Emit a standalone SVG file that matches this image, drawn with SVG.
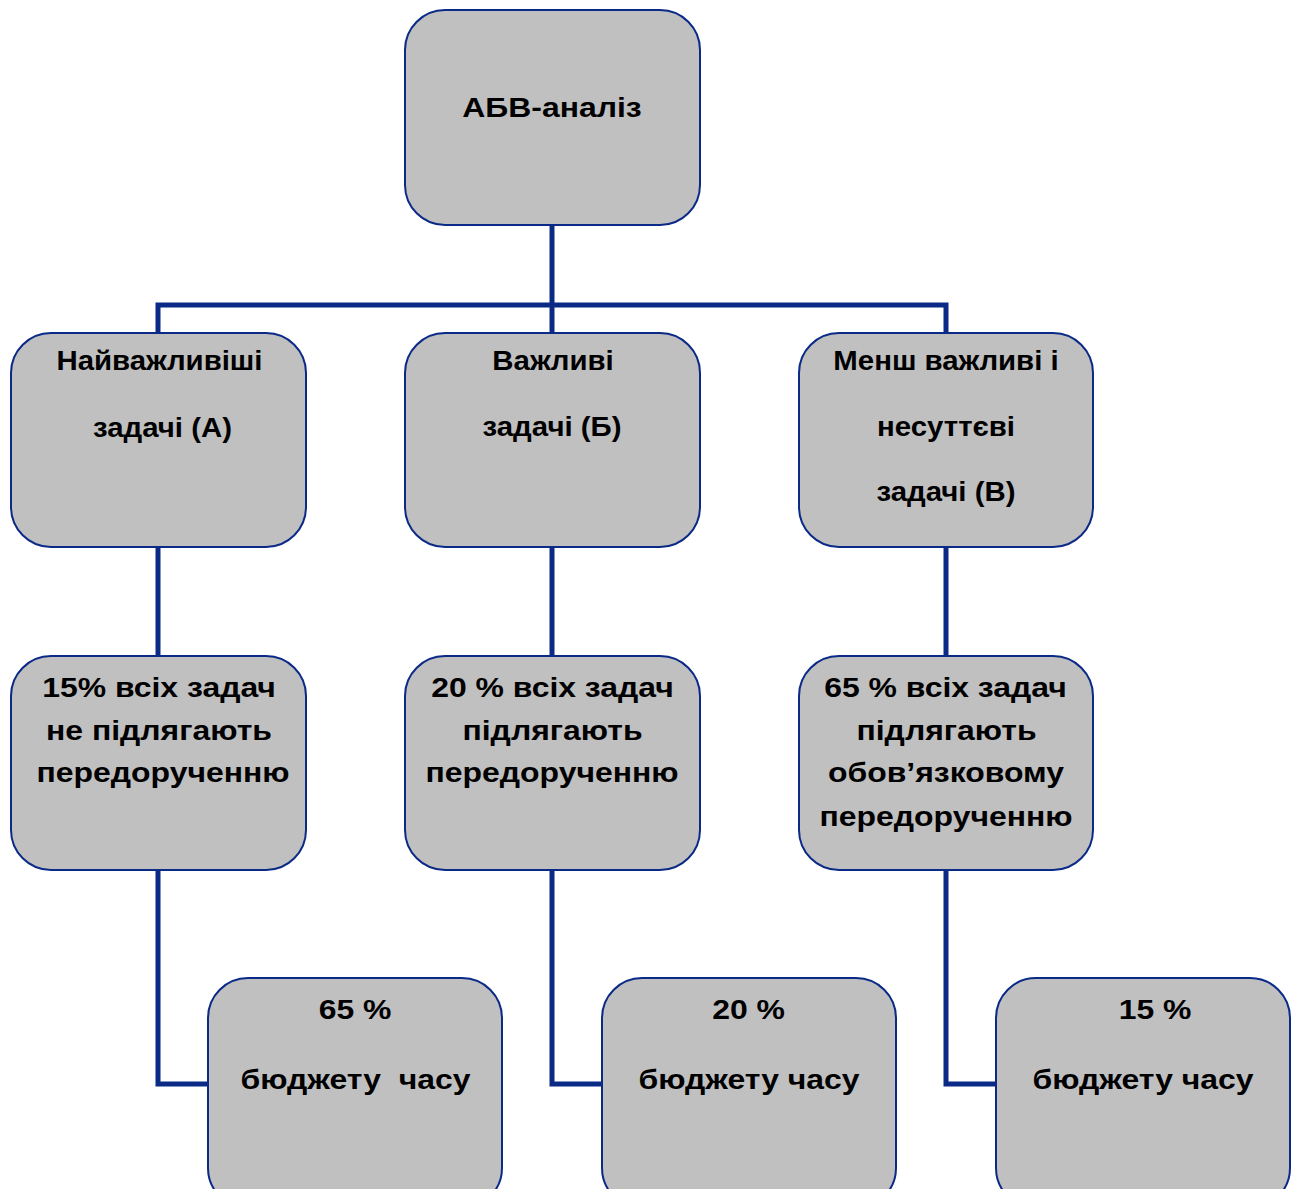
<svg xmlns="http://www.w3.org/2000/svg" width="1296" height="1189" viewBox="0 0 1296 1189">
  <style>
    .box { fill: #C0C0C0; stroke: #0B2A88; stroke-width: 2; }
    .lbl { font-family: "Liberation Sans", Arial, sans-serif; font-weight: bold; font-size: 28px; fill: #000; text-anchor: middle; }
    .wire { fill: none; stroke: #0A2A85; stroke-width: 5; }
  </style>
  <rect width="1296" height="1189" fill="#FFFFFF"/>

  <!-- connectors -->
  <g id="connectors">
    <path class="wire" d="M552,225 V305"/>
    <path class="wire" d="M158,333 V305 H946 V333"/>
    <path class="wire" d="M552,305 V333"/>
    <path class="wire" d="M158,547 V656"/>
    <path class="wire" d="M552,547 V656"/>
    <path class="wire" d="M946,547 V656"/>
    <path class="wire" d="M158,870 V1084 H208"/>
    <path class="wire" d="M552,870 V1084 H602"/>
    <path class="wire" d="M946,870 V1084 H996"/>
  </g>

  <!-- labels are set in a widened bold face, scaled horizontally about each line's centre -->

  <!-- root -->
  <g id="root">
    <rect class="box" x="405" y="10" width="295" height="215" rx="40"/>
    <text class="lbl" transform="translate(552 117) scale(1.14 1)">АБВ-аналіз</text>
  </g>

  <!-- categories -->
  <g id="cat-a">
    <rect class="box" x="11" y="333" width="295" height="214" rx="40"/>
    <text class="lbl" transform="translate(159.5 370) scale(1.05 1)">Найважливіші</text>
    <text class="lbl" transform="translate(162.5 437) scale(1.05 1)">задачі (А)</text>
  </g>
  <g id="cat-b">
    <rect class="box" x="405" y="333" width="295" height="214" rx="40"/>
    <text class="lbl" transform="translate(553 370) scale(1.05 1)">Важливі</text>
    <text class="lbl" transform="translate(552 436) scale(1.05 1)">задачі (Б)</text>
  </g>
  <g id="cat-c">
    <rect class="box" x="799" y="333" width="294" height="214" rx="40"/>
    <text class="lbl" transform="translate(946 370) scale(1.05 1)">Менш важливі і</text>
    <text class="lbl" transform="translate(946 436) scale(1.05 1)">несуттєві</text>
    <text class="lbl" transform="translate(946 501) scale(1.05 1)">задачі (В)</text>
  </g>

  <!-- task shares -->
  <g id="share-a">
    <rect class="box" x="11" y="656" width="295" height="214" rx="40"/>
    <text class="lbl" transform="translate(159 697) scale(1.14 1)">15% всіх задач</text>
    <text class="lbl" transform="translate(159 740) scale(1.14 1)">не підлягають</text>
    <text class="lbl" transform="translate(163 782) scale(1.14 1)">передорученню</text>
  </g>
  <g id="share-b">
    <rect class="box" x="405" y="656" width="295" height="214" rx="40"/>
    <text class="lbl" transform="translate(552.5 697) scale(1.14 1)">20 % всіх задач</text>
    <text class="lbl" transform="translate(552.5 740) scale(1.14 1)">підлягають</text>
    <text class="lbl" transform="translate(552 782) scale(1.14 1)">передорученню</text>
  </g>
  <g id="share-c">
    <rect class="box" x="799" y="656" width="294" height="214" rx="40"/>
    <text class="lbl" transform="translate(945.5 697) scale(1.14 1)">65 % всіх задач</text>
    <text class="lbl" transform="translate(946.5 740) scale(1.14 1)">підлягають</text>
    <text class="lbl" transform="translate(946 782) scale(1.14 1)">обов’язковому</text>
    <text class="lbl" transform="translate(946 826) scale(1.14 1)">передорученню</text>
  </g>

  <!-- time budget -->
  <g id="budget-a">
    <rect class="box" x="208" y="978" width="294" height="230" rx="40"/>
    <text class="lbl" transform="translate(355 1019) scale(1.14 1)">65 %</text>
    <text class="lbl" transform="translate(355.5 1089) scale(1.14 1)" xml:space="preserve">бюджету  часу</text>
  </g>
  <g id="budget-b">
    <rect class="box" x="602" y="978" width="294" height="230" rx="40"/>
    <text class="lbl" transform="translate(748.5 1019) scale(1.14 1)">20 %</text>
    <text class="lbl" transform="translate(749 1089) scale(1.14 1)">бюджету часу</text>
  </g>
  <g id="budget-c">
    <rect class="box" x="996" y="978" width="294" height="230" rx="40"/>
    <text class="lbl" transform="translate(1155 1019) scale(1.14 1)">15 %</text>
    <text class="lbl" transform="translate(1143 1089) scale(1.14 1)">бюджету часу</text>
  </g>
</svg>
